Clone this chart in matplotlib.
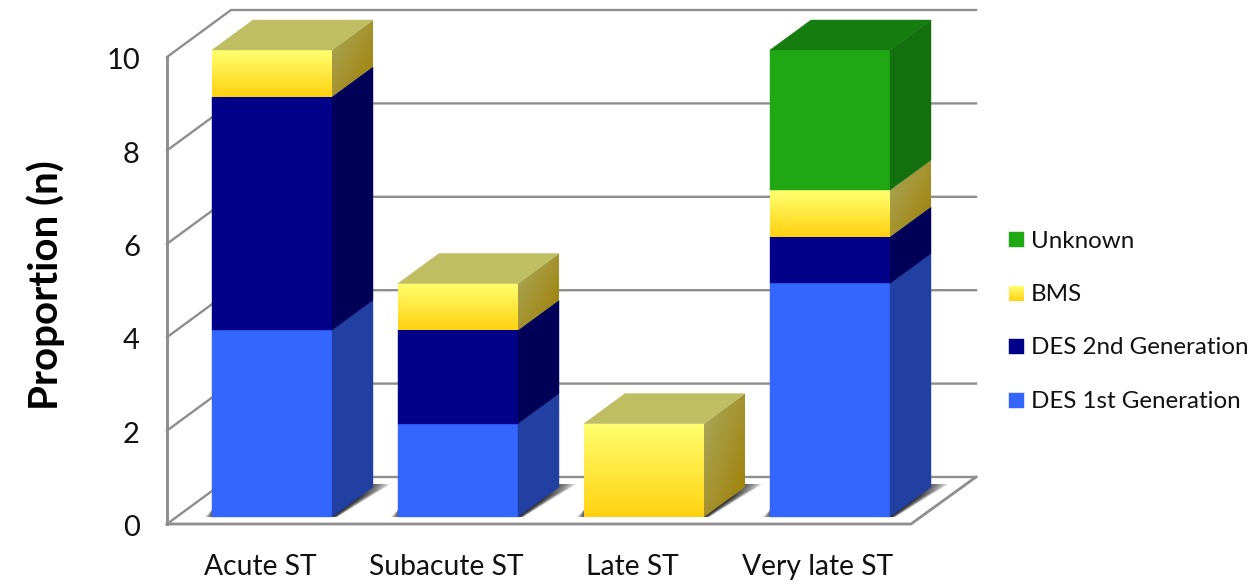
import numpy as np
import matplotlib
matplotlib.use('Agg')
import matplotlib.pyplot as plt
from matplotlib.colors import to_rgb
from matplotlib.patches import Polygon

plt.rcParams['font.family'] = ['Lato', 'DejaVu Sans']

# Stent thrombosis counts per timing group
categories = ['Acute ST', 'Subacute ST', 'Late ST', 'Very late ST']
des_1st = [4, 2, 0, 5]
des_2nd = [5, 2, 0, 1]
bms = [1, 1, 2, 1]
unknown = [0, 0, 0, 3]
y_ticks = [0, 2, 4, 6, 8, 10]

series_names = ['DES 1st Generation', 'DES 2nd Generation', 'BMS', 'Unknown']
series_values = [des_1st, des_2nd, bms, unknown]

# front, side and top face colours; two-colour tuples are gradients
faces = [
    {'front': '#3366ff', 'side': '#2140a2', 'top': '#2140a2'},
    {'front': '#000088', 'side': '#000058', 'top': '#000058'},
    {'front': ('#ffff70', '#ffd210'), 'side': ('#aaa860', '#9f7f00'), 'top': '#c0be62'},
    {'front': '#1fa814', 'side': '#13700f', 'top': '#157c10'},
]
GRID = '#8e8e8e'

X_UNIT = 186.0   # pixels per category
Y_UNIT = 46.7    # pixels per count
BAR_W = 120 / X_UNIT
DEPTH_X = 41 / X_UNIT
DEPTH_Y = 30 / Y_UNIT


def px_x(px):
    return (px - 272) / X_UNIT


def px_y(py):
    return (517 - py) / Y_UNIT


def gradient_poly(ax, pts, c0, c1, diagonal, z):
    # fill a polygon with a vertical or diagonal gradient
    pts = np.array(pts)
    n = 64
    u, v = np.meshgrid(np.linspace(0, 1, n), np.linspace(0, 1, n))
    t = (u + v) / 2 if diagonal else v
    a, b = np.array(to_rgb(c0)), np.array(to_rgb(c1))
    img = a + (b - a) * t[..., None]
    ext = (pts[:, 0].min(), pts[:, 0].max(), pts[:, 1].min(), pts[:, 1].max())
    im = ax.imshow(img, extent=ext, origin='upper', aspect='auto', zorder=z,
                   interpolation='bilinear')
    clip = Polygon(pts, closed=True, transform=ax.transData, facecolor='none', edgecolor='none')
    ax.add_patch(clip)
    im.set_clip_path(clip)


def face(ax, pts, color, z, diagonal=False):
    if isinstance(color, tuple):
        gradient_poly(ax, pts, color[0], color[1], diagonal, z)
    else:
        ax.add_patch(Polygon(pts, closed=True, facecolor=color, edgecolor=color,
                             linewidth=0.3, zorder=z))


fig = plt.figure(figsize=(12.53, 5.84), dpi=100)
ax = fig.add_axes([0, 0, 1, 1])
ax.axis('off')

# walls and floor
wall_front = px_x(167)
wall_back = px_x(231)
wall_right = px_x(976)
floor_right = px_x(911)
base_front = px_y(524)
base_back = px_y(477)

for v in y_ticks:
    y_f = base_front + v
    y_b = base_back + v
    ax.plot([wall_front, wall_back, wall_right], [y_f, y_b, y_b], color=GRID, lw=1.7, zorder=1,
            solid_joinstyle='miter')
    ax.text(px_x(140), y_f - 0.09, str(v), ha='right', va='center', fontsize=21, color='#111111')
ax.plot([wall_front, wall_front], [base_front, base_front + 10], color=GRID, lw=2.1, zorder=1)
ax.plot([wall_front, floor_right, wall_right], [base_front, base_front, base_back], color=GRID,
        lw=2.0, zorder=1, solid_joinstyle='miter')

# stacked blocks
for i, cat in enumerate(categories):
    x0 = i - BAR_W / 2
    x1 = i + BAR_W / 2
    z = 3 + i

    # soft floor shadow
    for k in range(9, -1, -1):
        off_l = (k * 0.7 + 1) / X_UNIT
        off_r = (k * 1.7 + 2) / X_UNIT
        ax.add_patch(Polygon([(x0 - off_l, 0), (x0, 7 / Y_UNIT), (x1, 7 / Y_UNIT),
                              (x1 + DEPTH_X + off_r, DEPTH_Y + 3 / Y_UNIT),
                              (x1 + off_r * 0.3, 0)], closed=True, facecolor='black',
                             edgecolor='none', alpha=0.09, zorder=2))
        ax.add_patch(Polygon([(x1, 0), (x1 + off_r * 0.3, 0),
                              (x1 + DEPTH_X + off_r, DEPTH_Y + 3 / Y_UNIT),
                              (x1 + DEPTH_X, DEPTH_Y + 3 / Y_UNIT)], closed=True,
                             facecolor='black', edgecolor='none', alpha=0.09, zorder=2))

    bottom = 0
    totals = [vals[i] for vals in series_values]
    last = max(j for j, h in enumerate(totals) if h > 0)
    for j, h in enumerate(totals):
        if h == 0:
            continue
        top = bottom + h
        style = faces[j]
        face(ax, [(x0, bottom), (x1, bottom), (x1, top), (x0, top)], style['front'], z)
        face(ax, [(x1, bottom), (x1 + DEPTH_X, bottom + DEPTH_Y), (x1 + DEPTH_X, top + DEPTH_Y),
                  (x1, top)], style['side'], z, diagonal=True)
        if j == last:
            face(ax, [(x0, top), (x1, top), (x1 + DEPTH_X, top + DEPTH_Y),
                      (x0 + DEPTH_X, top + DEPTH_Y)], style['top'], z)
        bottom = top

    ax.text(i - 0.065, px_y(567), cat, ha='center', va='center', fontsize=20.3, color='#111111')

# legend
legend_rows = [400, 346, 293, 239]
for style, name, row in zip(faces, series_names, legend_rows):
    sx0, sx1 = px_x(1009), px_x(1024)
    sy0, sy1 = px_y(row + 8), px_y(row - 7)
    face(ax, [(sx0, sy0), (sx1, sy0), (sx1, sy1), (sx0, sy1)], style['front'], 10)
    ax.text(px_x(1031), px_y(row + 2), name, ha='left', va='center', fontsize=17.4, color='#111111')

ax.text(px_x(46), px_y(285), 'Proportion (n)', rotation=90, ha='center', va='center',
        fontsize=29, fontweight='bold', color='black')

ax.set_xlim(px_x(0), px_x(1253))
ax.set_ylim(px_y(584), px_y(0))

fig.savefig('out.png', dpi=100)
